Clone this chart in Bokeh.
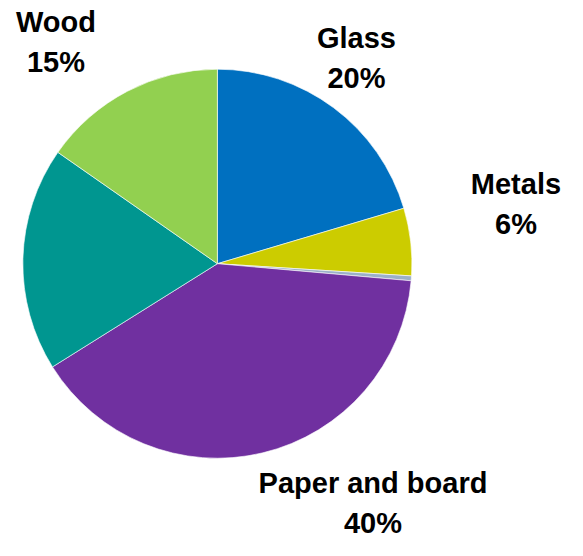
import math
from bokeh.plotting import figure
from bokeh.models import Range1d, ColumnDataSource
from bokeh.core.properties import value
from bokeh.embed import file_html
from bokeh.resources import INLINE

# ---- data ----
categories = ["Glass", "Metals", "Other", "Paper and board", "Plastics", "Wood"]
shares = [20.4, 5.6, 0.4, 39.7, 18.6, 15.3]
colors = ["#0070C0", "#CCCC00", "#9BB0C8", "#7030A0", "#009690", "#92D050"]

label_names = ["Wood", "Glass", "Metals", "Paper and board"]
label_pcts = ["15%", "20%", "6%", "40%"]

# ---- layout (reference pixel coordinates, y measured downwards) ----
REF_W, REF_H = 583, 556
W, H = 567, 540
cx, cy, r = 223, 271, 200
label_x = [57, 366, 530, 383]
label_y1 = [22, 39, 189, 497]   # anchor of first line
line_gap = 41

p = figure(width=W, height=H, output_backend="svg", toolbar_location=None,
           x_range=Range1d(0, REF_W), y_range=Range1d(0, REF_H),
           x_axis_type=None, y_axis_type=None, min_border=0)
p.grid.visible = False
p.outline_line_color = None
p.background_fill_color = "white"

total = sum(shares)
starts, ends = [], []
acc = 0.0
for s in shares:
    starts.append(math.pi / 2 - 2 * math.pi * acc / total)
    acc += s
    ends.append(math.pi / 2 - 2 * math.pi * acc / total)

src = ColumnDataSource(dict(cat=categories, start=starts, end=ends, color=colors))
p.wedge(x=cx, y=REF_H - cy, radius=r, start_angle="start", end_angle="end",
        direction="clock", fill_color="color", line_color="white",
        line_alpha=0.6, line_width=1, source=src)

lsrc = ColumnDataSource(dict(
    x=label_x,
    y1=[REF_H - y for y in label_y1],
    y2=[REF_H - y - line_gap for y in label_y1],
    name=label_names, pct=label_pcts))
for col, ycol in (("name", "y1"), ("pct", "y2")):
    p.text(x="x", y=ycol, text=col, source=lsrc, text_align="center",
           text_baseline="alphabetic", text_font=value("Liberation Sans"),
           text_font_style="bold", text_font_size="29px", text_color="black")

open("out.html", "w").write(file_html(p, INLINE))
